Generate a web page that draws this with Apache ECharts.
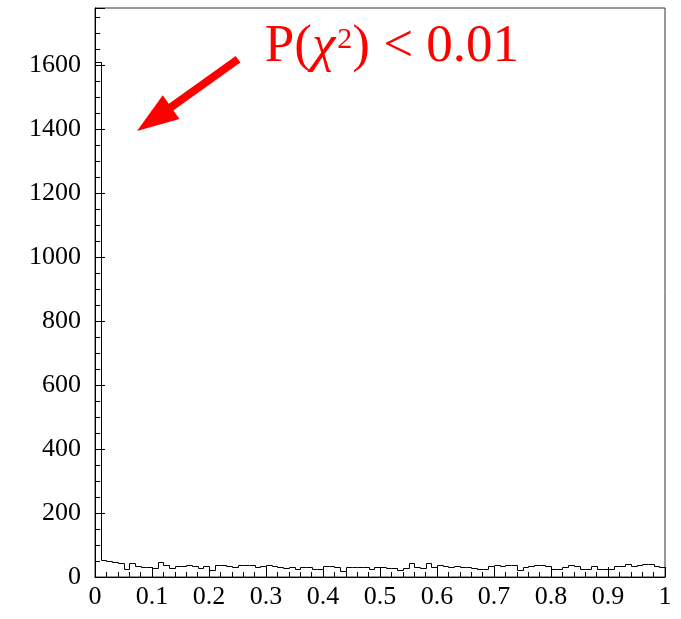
<!DOCTYPE html>
<html>
<head>
<meta charset="utf-8">
<script src="https://cdn.jsdelivr.net/npm/echarts@6/dist/echarts.min.js"></script>
<style>
html,body{margin:0;padding:0;background:#fff;}
#chart{width:681px;height:619px;}
</style>
</head>
<body>
<div id="chart"></div>
<script>
// Histogram of P(chi^2): 100 bins of width 0.01 on [0,1]
const binWidth = 0.01;
const binCounts = [
  1610, 54, 50, 46, 43, 25, 43, 35, 32, 30,
  29, 47, 38, 27, 35, 35, 38, 33, 27, 35,
  22, 36, 36, 34, 31, 36, 37, 36, 30, 33,
  36, 34, 31, 27, 31, 25, 31, 31, 25, 25,
  35, 35, 30, 19, 30, 31, 31, 31, 25, 31,
  31, 29, 29, 22, 27, 43, 31, 27, 44, 31,
  39, 35, 31, 33, 31, 31, 29, 25, 25, 33,
  39, 33, 37, 37, 21, 31, 35, 39, 39, 33,
  25, 25, 31, 39, 33, 25, 25, 35, 25, 25,
  25, 33, 33, 41, 35, 38, 42, 42, 35, 30
];
const xTickLabels = ['0','0.1','0.2','0.3','0.4','0.5','0.6','0.7','0.8','0.9','1'];
const yTickLabels = [0, 200, 400, 600, 800, 1000, 1200, 1400, 1600];
const annotationParts = ['P(', '\u03C7', '2', ') < 0.01'];

const X_MIN = 0, X_MAX = 1, Y_MIN = 0, Y_MAX = 1780;

const FONT = '"Liberation Serif", "DejaVu Serif", serif';
const chart = echarts.init(document.getElementById('chart'), null, {renderer: 'canvas'});

// histogram outline drawn bin by bin via custom series (scales from axes)
const histData = binCounts.map((v, i) => [i * binWidth, (i + 1) * binWidth, v, i > 0 ? binCounts[i - 1] : 0]);

chart.setOption({
  animation: false,
  backgroundColor: '#fff',
  grid: {left: 95, right: 16, top: 8, bottom: 42, show: true, borderColor: '#333', borderWidth: 1, backgroundColor: 'transparent'},
  xAxis: {
    type: 'value', min: X_MIN, max: X_MAX, interval: 0.1,
    axisLine: {show: true, onZero: false, lineStyle: {color: '#000', width: 1}},
    axisTick: {show: true, inside: true, length: 10, lineStyle: {color: '#000', width: 1}},
    minorTick: {show: true, splitNumber: 5, length: 5, lineStyle: {color: '#000', width: 1}},
    splitLine: {show: false},
    axisLabel: {
      margin: 7, color: '#000', fontFamily: FONT, fontSize: 26,
      formatter: (v) => { const i = Math.round(v * 10); return xTickLabels[i] !== undefined ? xTickLabels[i] : ''; }
    }
  },
  yAxis: [{
    type: 'value', min: Y_MIN, max: Y_MAX, interval: 50, position: 'left',
    axisLine: {show: true, onZero: false, lineStyle: {color: '#000', width: 1}},
    axisTick: {show: true, inside: true, length: 5, lineStyle: {color: '#000', width: 1}},
    splitLine: {show: false},
    axisLabel: {
      margin: 14, color: '#000', fontFamily: FONT, fontSize: 26,
      formatter: (v) => (yTickLabels.indexOf(v) >= 0 ? String(v) : '')
    }
  }, {
    type: 'value', min: Y_MIN, max: Y_MAX, interval: 200, position: 'left',
    axisLine: {show: false},
    axisTick: {show: true, inside: true, length: 10, lineStyle: {color: '#000', width: 1}},
    splitLine: {show: false},
    axisLabel: {show: false}
  }],
  series: [{
    type: 'custom',
    yAxisIndex: 0,
    clip: true,
    data: histData,
    encode: {x: [0, 1], y: 2},
    renderItem: function (params, api) {
      const x0 = api.value(0), x1 = api.value(1), v = api.value(2), prev = api.value(3);
      const pPrev = api.coord([x0, prev]);
      const pA = api.coord([x0, v]);
      const pB = api.coord([x1, v]);
      const r = (n) => Math.round(n) + 0.5;
      const pts = [[r(pPrev[0]), r(pPrev[1])], [r(pA[0]), r(pA[1])], [r(pB[0]), r(pB[1])]];
      if (params.dataIndex === binCounts.length - 1) {
        const pEnd = api.coord([x1, 0]);
        pts.push([r(pEnd[0]), r(pEnd[1])]);
      }
      return {
        type: 'polyline',
        shape: {points: pts},
        style: {stroke: '#000', lineWidth: 1, fill: null}
      };
    }
  }]
});

// annotation arrow & text in data coordinates
const arrowTail = [0.251, 1620];
const arrowBase = [0.1335, 1470];
const arrowTip = [0.0737, 1395];
const textAnchor = [0.298, 1657];
const p = (d) => chart.convertToPixel({gridIndex: 0}, d);
const t = p(arrowTail), b = p(arrowBase), tip = p(arrowTip), ta = p(textAnchor);
const dx = tip[0] - b[0], dy = tip[1] - b[1];
const len = Math.sqrt(dx * dx + dy * dy);
const nx = -dy / len, ny = dx / len;
const halfW = 14.5;
const richText = '{n|' + annotationParts[0] + '}{c|' + annotationParts[1] + '}{s|' + annotationParts[2] + '}{n|' + annotationParts[3] + '}';
chart.setOption({
  graphic: [
    {type: 'line', shape: {x1: t[0], y1: t[1], x2: b[0] + dx / len * 2, y2: b[1] + dy / len * 2},
     style: {stroke: '#ff0000', lineWidth: 8, lineCap: 'butt'}, z: 100},
    {type: 'polygon', shape: {points: [[b[0] + nx * halfW, b[1] + ny * halfW], [tip[0], tip[1]], [b[0] - nx * halfW, b[1] - ny * halfW]]},
     style: {fill: '#ff0000'}, z: 100},
    {type: 'text', x: ta[0], y: ta[1],
     style: {
       text: richText, fill: '#ff0000', font: '53px ' + FONT, textAlign: 'left', textVerticalAlign: 'middle',
       rich: {
         n: {fontSize: 53, fontFamily: FONT, fill: '#ff0000', lineHeight: 53},
         c: {fontSize: 53, fontFamily: FONT, fontStyle: 'italic', fill: '#ff0000', lineHeight: 53, padding: [0, 2, 0, 0]},
         s: {fontSize: 30, fontFamily: FONT, fill: '#ff0000', lineHeight: 30, verticalAlign: 'top', padding: [4, 0, 0, 0]}
       }
     }, z: 100}
  ]
});
</script>
</body>
</html>
